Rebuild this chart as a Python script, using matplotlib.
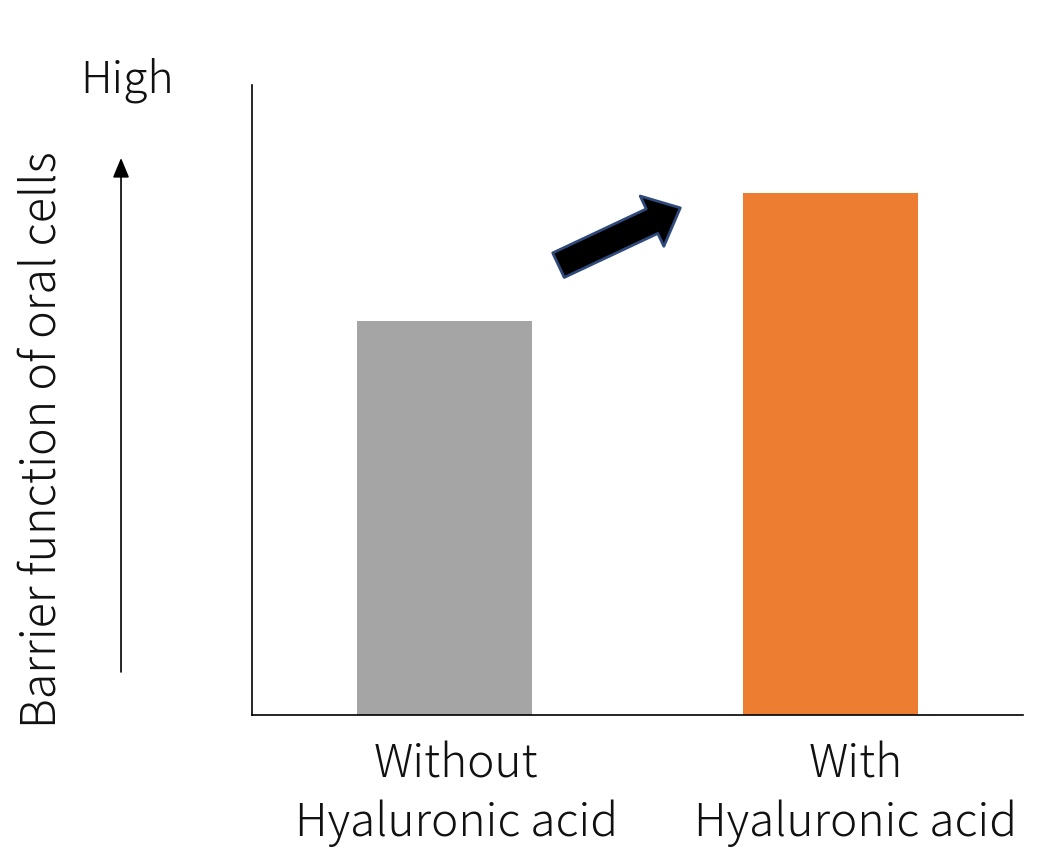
import matplotlib.pyplot as plt
from matplotlib.patches import FancyArrowPatch

plt.rcParams['font.family'] = ['Noto Sans CJK JP', 'DejaVu Sans']

# données
categories = ["Without\nHyaluronic acid", "With\nHyaluronic acid"]
values = [0.625, 0.829]
colors = ["#a5a5a5", "#ed7d31"]

fig = plt.figure(figsize=(10.37, 8.52), dpi=100)
ax = fig.add_axes([0.243, 0.1608, 0.7435, 0.7394])

ax.bar(range(len(values)), values, width=0.453, color=colors)
ax.set_xlim(-0.5, 1.5)
ax.set_ylim(0, 1)
ax.set_xticks([])
ax.set_yticks([])
for s in ["top", "right"]:
    ax.spines[s].set_visible(False)
for s in ["left", "bottom"]:
    ax.spines[s].set_linewidth(1.2)

# étiquettes des catégories
offsets = [0.03, 0.065]
for i, lab in enumerate(categories):
    ax.text(i + offsets[i], -0.042, lab, ha="center", va="top", fontsize=33,
            fontweight="light", linespacing=1.3, color="#111111")

# grosse flèche entre les barres
arrow = FancyArrowPatch((0.295, 0.714), (0.611, 0.805),
                        arrowstyle="simple,head_width=0.8,head_length=0.45,tail_width=0.39",
                        mutation_scale=50, shrinkA=0, shrinkB=0,
                        facecolor="black", edgecolor="#2f4a7a", linewidth=2)
ax.add_patch(arrow)

# axe Y (flèche fine + textes)
fig.add_artist(FancyArrowPatch((0.1167, 0.2113), (0.1167, 0.8146),
                               transform=fig.transFigure,
                               arrowstyle="-|>,head_width=0.25,head_length=0.6",
                               mutation_scale=20, linewidth=1.2, color="black",
                               shrinkA=0, shrinkB=0))
fig.text(0.123, 0.906, "High", ha="center", va="center", fontsize=32,
         fontweight="light", color="#111111")
fig.text(0.0405, 0.4836, "Barrier function of oral cells", rotation=90,
         ha="center", va="center", fontsize=33.5, fontweight="light", color="#111111")

fig.savefig("out.png", dpi=100)
